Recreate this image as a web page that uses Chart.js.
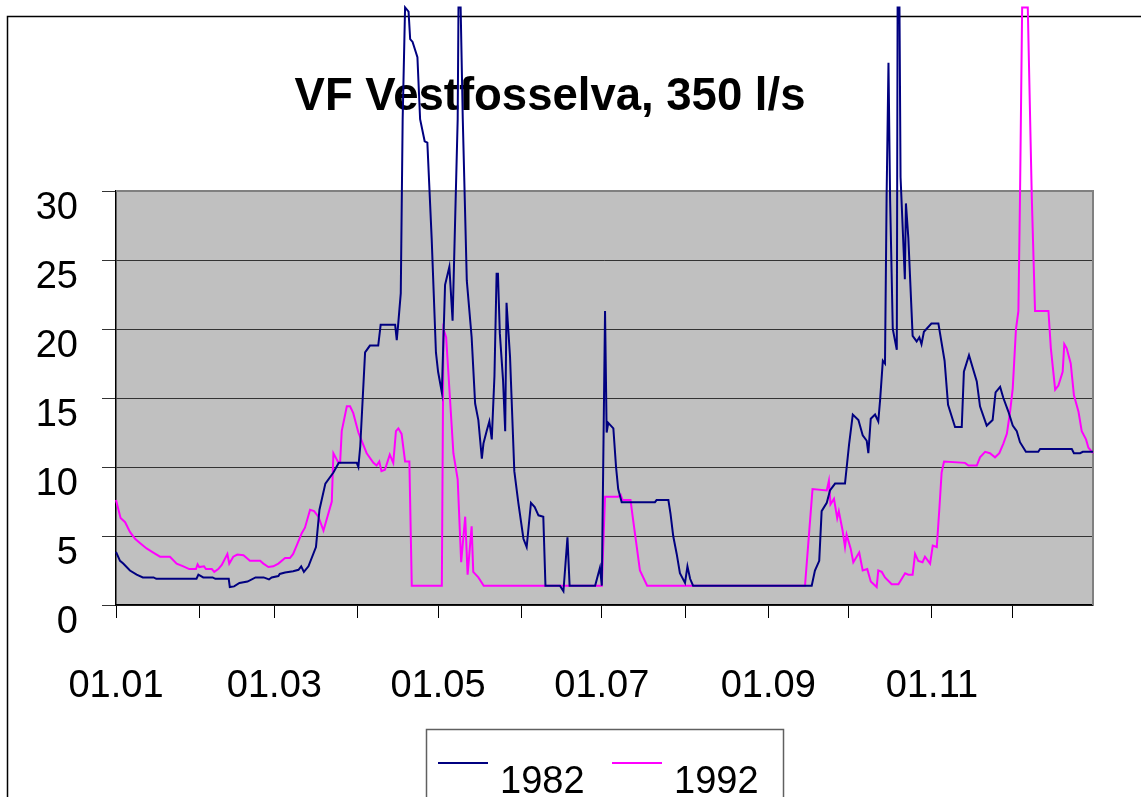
<!DOCTYPE html>
<html lang="no">
<head>
<meta charset="UTF-8">
<title>VF Vestfosselva</title>
<script src="https://cdn.jsdelivr.net/npm/chart.js"></script>
<style>
  body { margin: 0; background: #fff; }
  #wrap { width: 1141px; height: 797px; }
</style>
</head>
<body>
<div id="wrap"><canvas id="myChart" width="1141" height="797"></canvas></div>

<script>
// dagnummer i året (0 = 01.01) og vannføring
const days1982 = [0, 1.5, 2.7, 5.2, 7.7, 10, 14, 15, 30, 30.7, 32.5, 36, 37, 42, 42.4, 44, 46, 49, 52, 55, 57, 58, 60.5, 61, 63, 66, 68, 69, 70, 71.7,
  74.5, 75.8, 78, 81, 83, 89.7, 90.3, 91, 92.8, 94.6, 97.7, 98.6, 104, 104.6, 105.2, 106.1, 106.8, 107.7, 109, 109.6, 110.5, 112.3, 113.3, 115, 116,
  117.6, 119.2, 120, 121.4, 122.6, 124.2, 125.4, 126.3, 127.3, 127.6, 128.4, 129.2, 130.7, 132.5, 133.8, 135, 136.3, 136.9, 138.1, 139.1, 140,
  141, 141.8, 142.3, 143, 144.2, 145, 145.5, 146.8, 148.4, 149.9, 151.8, 153, 154.6, 156, 157.4, 159.2, 160, 165.4, 166.7, 168.2, 169, 178.5,
  180.3, 181, 182.2, 182.8, 183.4, 185.3, 186.3, 187.1, 188.4, 200.8, 201.4, 205.8, 206.6, 207.6, 208.9, 210.1, 212, 212.9, 213.9, 215, 259.2, 260.4, 262,
  262.9, 264.8, 266, 267.9, 271.6, 273.1, 274.5, 276.6, 278.2, 279.7, 280.3, 281.2, 282.8, 284, 284.7, 285.7, 286.5, 287.1, 287.8, 288.4, 289.4,
  290.9, 291.2, 291.9, 292.3, 293.9, 294.3, 295.2, 296.8, 298.3, 299.3, 300.1, 301, 303.8, 306.4, 308.7, 310, 312.6, 315.1, 315.9, 317.8, 320.7,
  321.9, 324.4, 326.6, 327.7, 329.4, 330.6, 332.5, 334.1, 335.6, 336.8, 339, 343.6, 344.3, 356.1, 356.9, 359.2, 360.2, 364];
const flow1982 = [3.85, 3.2, 3.0, 2.5, 2.2, 2.0, 2.0, 1.9, 1.9, 2.2, 2.0, 2.0, 1.9, 1.9, 1.3, 1.35, 1.6, 1.7, 2.0, 2.0, 1.85, 2.0, 2.1, 2.25, 2.35, 2.45, 2.55, 2.8, 2.4, 2.8,
  4.2, 6.9, 8.8, 9.6, 10.3, 10.3, 10.0, 11.5, 18.3, 18.8, 18.8, 20.3, 20.3, 19.2, 20.5, 22.6, 35.2, 43.3, 43.0, 41, 40.8, 39.7, 35.2, 33.6, 33.5,
  26.6, 18.3, 16.9, 15.4, 23.2, 24.5, 20.6, 27.5, 35.2, 43.3, 43.3, 35.2, 23.5, 19.4, 14.6, 13.4, 10.6, 11.7, 12.6, 13.3, 12.0,
  16.6, 24.0, 24.0, 19.7, 16.3, 12.6, 21.9, 18.0, 9.7, 7.4, 4.8, 4.2, 7.4, 7.1, 6.5, 6.4, 1.4, 1.4, 1.0, 4.9, 1.4, 1.4,
  2.7, 1.4, 21.3, 12.5, 13.2, 12.8, 10.0, 8.4, 7.45, 7.45, 7.6, 7.6, 6.6, 5.0, 3.7, 2.3, 1.6, 2.8, 1.9, 1.4, 1.4, 2.5, 3.2,
  6.8, 7.4, 8.3, 8.8, 8.8, 11.6, 13.8, 13.4, 12.3, 11.9, 11.0, 13.5, 13.8, 13.3, 14.9, 17.7, 17.5, 29.5, 39.3, 29.5, 20.0,
  18.5, 43.3, 43.3, 31.0, 23.6, 29.1, 26.6, 19.5, 19.1, 19.4, 18.9, 19.8, 20.4, 20.4, 17.7, 14.5, 12.9, 12.9, 16.9, 18.1, 16.2,
  14.4, 13.0, 13.4, 15.4, 15.8, 15.0, 14.0, 13.0, 12.6, 11.8, 11.1, 11.1, 11.3, 11.3, 11.0, 11.0, 11.1, 11.1];

const days1992 = [0, 1.7, 3.4, 5.2, 7.1, 8.9, 11.4, 13.9, 16.4, 20.1, 22.6, 25.1, 27.3, 29.8, 30.4, 31, 32.8, 33.5, 35.7, 36.6, 38.1, 39.4, 41.5, 42.2,
  43.7, 45.2, 47.5, 49.9, 53.7, 54.9, 56.8, 58.6, 60.5, 63, 64.8, 66, 67.3, 69.2, 70.4, 72.3, 73.8, 75.4, 77.3, 80.4, 81, 82.9, 83.5, 84.1, 86,
  87.2, 88.4, 90.3, 93.4, 95.9, 97.1, 98.1, 98.9, 100.2, 102, 103.3, 104.3, 105.2, 106.4, 107.7, 109.3, 110.2, 121.4, 122, 123, 125.7, 127.3,
  128.6, 130.1, 131, 132.5, 133.1, 135, 137, 181, 182.2, 187.1, 188, 188.7, 191.7, 192.5, 195.2, 197.9, 256.7, 259.5, 264.8, 265.6, 266.2, 267.5,
  268.7, 269.3, 270.7, 271.6, 272.2, 273.7, 274.7, 276.9, 278.2, 279.9, 281.2, 283.4, 284, 285.3, 286.5, 289, 291.5, 294, 295.2, 296.8, 297.7,
  298.9, 300.5, 301.4, 303.3, 304.3, 305.8, 306.8, 307.6, 308.5, 316.3, 317.6, 320.7, 321.9, 323.8, 325.6, 327.5, 329.1, 330.6, 331.9, 333.1,
  334.1, 335.3, 336.2, 336.8, 337.6, 339.7, 341.2, 342.4, 347.4, 348.3, 349.9, 351.1, 352.7, 353.3, 354.2, 355.7, 356.9, 358.6, 359.8, 361.4,
  362.3, 364];
const flow1992 = [7.6, 6.3, 6.0, 5.3, 4.8, 4.5, 4.1, 3.8, 3.5, 3.5, 3.0, 2.8, 2.6, 2.6, 2.95, 2.75, 2.8, 2.6, 2.6, 2.4, 2.6, 2.9, 3.7, 3.0,
  3.5, 3.65, 3.6, 3.2, 3.2, 3.0, 2.75, 2.8, 3.0, 3.4, 3.4, 3.7, 4.3, 5.2, 5.6, 6.9, 6.8, 6.4, 5.4, 7.5, 11.0, 10.3, 10.3, 12.6, 14.4,
  14.4, 13.9, 12.5, 11.0, 10.3, 10.1, 10.4, 9.7, 9.8, 10.9, 10.3, 12.6, 12.8, 12.4, 10.4, 10.4, 1.4, 1.4, 20.0, 19.4, 11.0, 9.1,
  3.1, 6.4, 2.2, 5.7, 2.4, 2.0, 1.4, 1.4, 7.85, 7.85, 8.0, 7.6, 7.6, 6.4, 2.5, 1.4, 1.4, 8.4, 8.3, 9.0, 7.3, 7.7,
  6.3, 6.8, 5.4, 4.2, 5.1, 4.1, 3.1, 3.8, 2.5, 2.6, 1.7, 1.3, 2.5, 2.4, 2.0, 1.5, 1.5, 2.3, 2.2, 2.2, 3.7,
  3.2, 3.1, 3.5, 3.0, 4.3, 4.2, 7.1, 9.6, 10.4, 10.3, 10.1, 10.1, 10.7, 11.1, 11.0, 10.7, 11.0, 11.7, 12.4, 14.0,
  15.7, 20.0, 21.3, 29.5, 43.3, 43.3, 29.5, 21.3, 21.3, 18.6, 15.6, 15.9, 16.9, 18.9, 18.6, 17.5, 15.2, 14.0, 12.6, 12.0,
  11.4, 11.0];

// månedsstart og etiketter på x-aksen
const monthStarts = [0, 31, 59, 90, 120, 151, 181, 212, 243, 273, 304, 334];
const monthLabels = ['01.01', '', '01.03', '', '01.05', '', '01.07', '', '01.09', '', '01.11', ''];

const chartTitle = 'VF Vestfosselva, 350 l/s';
const fontFamily = "'Liberation Sans', Arial, sans-serif";

function toPoints(days, values) {
  return days.map((d, i) => ({ x: d, y: values[i] }));
}

// bakgrunn, ramme, tittel og forklaring
const excelLook = {
  id: 'excelLook',
  beforeDraw(chart) {
    const ctx = chart.ctx, a = chart.chartArea;
    ctx.save();
    ctx.fillStyle = '#fff';
    ctx.fillRect(0, 0, chart.width, chart.height);
    ctx.strokeStyle = '#000';
    ctx.lineWidth = 1.5;
    ctx.beginPath();
    ctx.moveTo(chart.width + 5, 16.5);
    ctx.lineTo(7.5, 16.5);
    ctx.lineTo(7.5, chart.height + 5);
    ctx.stroke();
    ctx.fillStyle = '#c0c0c0';
    ctx.fillRect(a.left, a.top, a.right - a.left, a.bottom - a.top);
    ctx.restore();
  },
  beforeDatasetsDraw(chart) {
    const ctx = chart.ctx, a = chart.chartArea;
    ctx.save();
    ctx.strokeStyle = '#808080';
    ctx.lineWidth = 2;
    ctx.beginPath();
    ctx.moveTo(a.left, a.top);
    ctx.lineTo(a.right, a.top);
    ctx.lineTo(a.right, a.bottom);
    ctx.stroke();
    ctx.fillStyle = '#000';
    ctx.font = 'bold 45.5px ' + fontFamily;
    ctx.textAlign = 'center';
    ctx.textBaseline = 'alphabetic';
    ctx.fillText(chartTitle, 550, 110);
    ctx.restore();
  },
  afterDraw(chart) {
    const ctx = chart.ctx;
    ctx.save();
    ctx.fillStyle = '#fff';
    ctx.fillRect(426, 729, 357, 80);
    ctx.strokeStyle = '#606060';
    ctx.lineWidth = 1.5;
    ctx.strokeRect(426.5, 729.5, 357, 80);
    ctx.font = '38px ' + fontFamily;
    ctx.textBaseline = 'alphabetic';
    ctx.textAlign = 'left';
    chart.data.datasets.forEach((ds, i) => {
      const x0 = 438 + i * 174;
      ctx.strokeStyle = ds.borderColor;
      ctx.lineWidth = 2;
      ctx.beginPath();
      ctx.moveTo(x0, 763);
      ctx.lineTo(x0 + 50, 763);
      ctx.stroke();
      ctx.fillStyle = '#000';
      ctx.fillText(ds.label, x0 + 62, 793);
    });
    ctx.restore();
  }
};

const config = {
  type: 'line',
  data: {
    datasets: [
      { label: '1982', data: toPoints(days1982, flow1982), borderColor: '#000080', borderWidth: 2,
        pointRadius: 0, tension: 0, clip: false },
      { label: '1992', data: toPoints(days1992, flow1992), borderColor: '#ff00ff', borderWidth: 2,
        pointRadius: 0, tension: 0, clip: false }
    ]
  },
  options: {
    responsive: false,
    animation: false,
    devicePixelRatio: 1,
    layout: { padding: { top: 191, right: 48, left: 0, bottom: 0 } },
    plugins: {
      legend: { display: false },
      title: { display: false },
      tooltip: { enabled: false }
    },
    scales: {
      x: {
        type: 'linear',
        min: 0,
        max: 364,
        afterBuildTicks(scale) {
          scale.ticks = monthStarts.map(v => ({ value: v }));
        },
        afterFit(scale) { scale.height = 192; },
        ticks: {
          autoSkip: false,
          maxRotation: 0,
          padding: 46,
          color: '#000',
          font: { family: fontFamily, size: 38 },
          callback: (v, i) => monthLabels[i]
        },
        grid: { drawOnChartArea: false, tickLength: 13, color: '#000', lineWidth: 1 },
        border: { display: true, color: '#000', width: 1.5 }
      },
      y: {
        min: 0,
        max: 30,
        afterFit(scale) { scale.width = 116; },
        ticks: {
          stepSize: 5,
          padding: 24,
          labelOffset: 18,
          color: '#000',
          font: { family: fontFamily, size: 38 }
        },
        grid: { color: '#333', tickLength: 14, lineWidth: 1 },
        border: { display: true, color: '#000', width: 1.5 }
      }
    }
  },
  plugins: [excelLook]
};

const grafico = new Chart(document.getElementById('myChart'), config);
</script>
</body>
</html>
